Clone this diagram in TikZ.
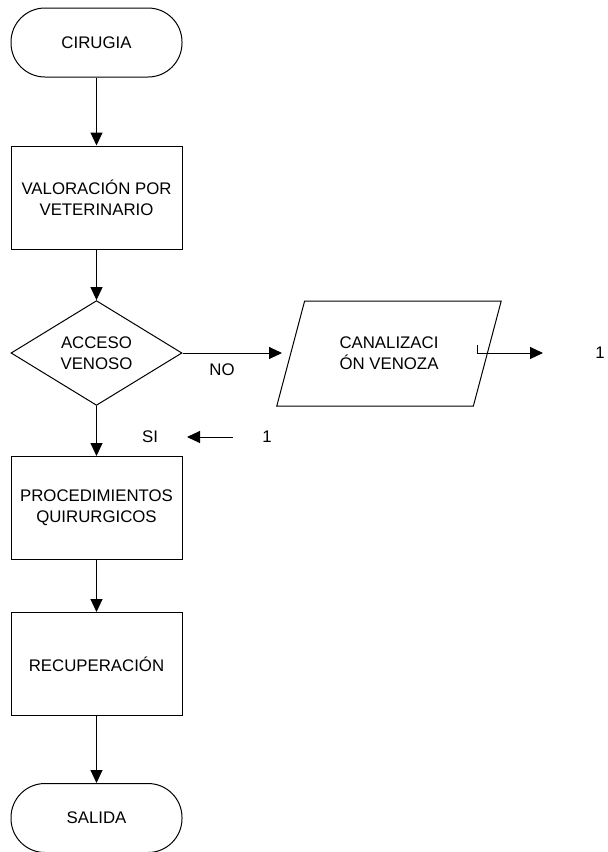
\documentclass[tikz,border=0pt]{standalone}
\usepackage{fontspec}
\setmainfont{Liberation Sans}
\usetikzlibrary{shapes.geometric,arrows.meta}
\begin{document}
\begin{tikzpicture}[x=0.5pt,y=-0.5pt,
  every node/.style={font=\fontsize{8.4}{10.5}\selectfont, align=center},
  outline/.style={draw=black, line width=0.5pt, inner sep=0pt},
  terminal/.style={outline, rectangle, rounded corners=17pt, minimum width=85.5pt, minimum height=34.5pt},
  process/.style={outline, rectangle, minimum width=85.5pt, minimum height=51.5pt},
  decision/.style={outline, diamond, minimum width=85.5pt, minimum height=51pt},
  iobox/.style={outline, trapezium, trapezium left angle=63.6, trapezium right angle=116.4,
    trapezium stretches=true, minimum width=113pt, minimum height=52.5pt},
  flow/.style={line width=0.5pt, -{Triangle[length=6.5pt,width=6pt]}},
  plain/.style={inner sep=0pt}
]
\useasboundingbox (0,0) rectangle (608,852);

% main column
\node[terminal] (start) at (96.5,42.5) {CIRUGIA};
\node[process] (valor) at (96.5,197.5) {VALORACIÓN POR\\VETERINARIO};
\node[decision] (acceso) at (96.5,353) {ACCESO\\VENOSO};
\node[process] (proc) at (96.5,508) {PROCEDIMIENTOS\\QUIRURGICOS};
\node[process] (recup) at (96.5,664) {RECUPERACIÓN};
\node[terminal] (salida) at (96.5,818) {SALIDA};

% side branch
\node[iobox] (canal) at (389,353.5) {CANALIZACI\\ÓN VENOZA};

% labels
\node[plain] (no) at (222,370) {NO};
\node[plain] (si) at (150,437) {SI};
\node[plain] (uno) at (267,437) {1};
\node[plain] (unob) at (600,353) {1};

% connector end points
\coordinate (notip) at (282,353);
\coordinate (exitstub) at (477,345);
\coordinate (exitbend) at (477,353);
\coordinate (exittip) at (543,353);
\coordinate (sistart) at (233,437);
\coordinate (sitip) at (187,437);

% connectors
\draw[flow] (start) -- (valor);
\draw[flow] (valor) -- (acceso);
\draw[flow] (acceso) -- (proc);
\draw[flow] (proc) -- (recup);
\draw[flow] (recup) -- (salida);
\draw[flow] (acceso.east) -- (notip);
\draw[flow] (exitstub) -- (exitbend) -- (exittip);
\draw[flow] (sistart) -- (sitip);
\end{tikzpicture}
\end{document}
